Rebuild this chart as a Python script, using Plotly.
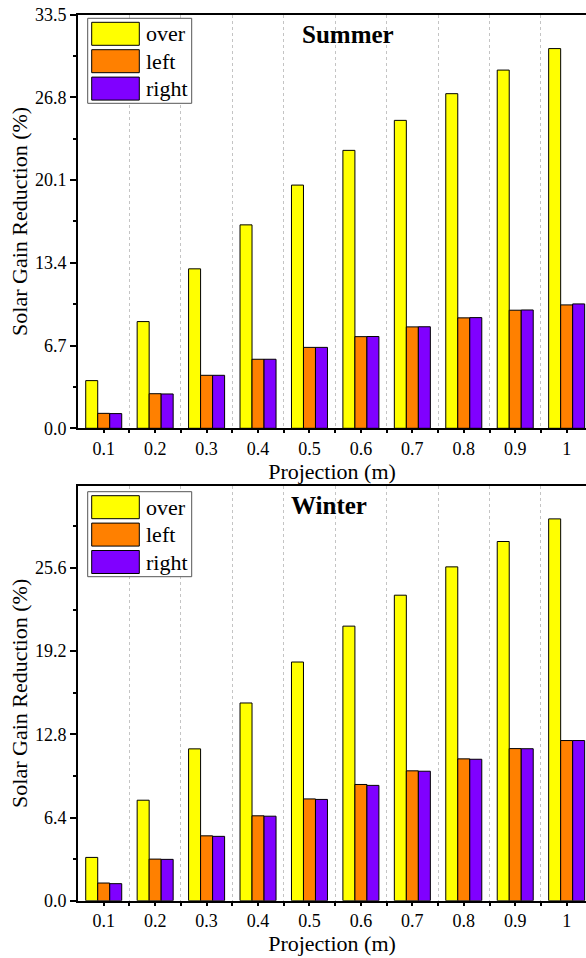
import plotly.graph_objects as go

# ---- data -------------------------------------------------------------
projection = [0.1, 0.2, 0.3, 0.4, 0.5, 0.6, 0.7, 0.8, 0.9, 1.0]
projection_labels = ["0.1", "0.2", "0.3", "0.4", "0.5", "0.6", "0.7", "0.8", "0.9", "1"]

series_names = ["over", "left", "right"]
series_colors = ["#FFFF00", "#FF8000", "#8000FF"]

summer_over = [3.86, 8.64, 12.91, 16.47, 19.69, 22.50, 24.93, 27.09, 29.00, 30.74]
summer_left = [1.21, 2.80, 4.29, 5.59, 6.55, 7.42, 8.21, 8.94, 9.56, 9.99]
summer_right = [1.19, 2.78, 4.29, 5.59, 6.55, 7.43, 8.22, 8.96, 9.58, 10.07]

winter_over = [3.33, 7.73, 11.68, 15.21, 18.36, 21.12, 23.50, 25.68, 27.63, 29.37]
winter_left = [1.36, 3.20, 4.99, 6.53, 7.83, 8.94, 9.99, 10.91, 11.70, 12.32]
winter_right = [1.31, 3.18, 4.95, 6.50, 7.79, 8.87, 9.96, 10.88, 11.69, 12.32]

summer_yticks = [0.0, 6.7, 13.4, 20.1, 26.8, 33.5]
winter_yticks = [0.0, 6.4, 12.8, 19.2, 25.6]
summer_ymax = 33.5
winter_ymax = 31.9

# ---- page geometry (pixels) -------------------------------------------
W, H = 586, 958
ML = 78
FONT = "Liberation Serif"


def px_x(px):
    return (px - ML) / (W - ML)


def px_y(py):
    return 1 - py / H


fig = go.Figure()

panels = [
    ("x", "y", [summer_over, summer_left, summer_right]),
    ("x2", "y2", [winter_over, winter_left, winter_right]),
]
for xa, ya, values in panels:
    for name, color, vals in zip(series_names, series_colors, values):
        fig.add_trace(go.Bar(
            x=projection, y=vals, name=name, xaxis=xa, yaxis=ya,
            marker=dict(color=color, line=dict(color="black", width=1)),
            showlegend=False,
        ))

midpoints = [round(p + 0.05, 3) for p in projection]


def half_steps(ticks, top):
    step = ticks[1] - ticks[0]
    out = [round(t + step / 2, 3) for t in ticks]
    return [v for v in out if v < top]


def xaxis_cfg(anchor):
    return dict(
        anchor=anchor, domain=[0, 1], range=[0.05, 1.0376], automargin=False,
        tickvals=projection, ticktext=projection_labels,
        ticks="outside", ticklen=3, tickwidth=2, tickcolor="black",
        showline=True, linewidth=2, linecolor="black", mirror=True,
        showgrid=False, zeroline=False,
        tickfont=dict(family=FONT, size=18, color="black"),
        title=dict(text="Projection (m)", font=dict(family=FONT, size=22, color="black"), standoff=2),
        minor=dict(tickvals=midpoints, ticks="outside", ticklen=3, tickwidth=2, tickcolor="black",
                   showgrid=True, gridcolor="#c4c4c4", griddash="dot", gridwidth=1),
    )


def yaxis_cfg(anchor, domain, ticks, top):
    return dict(
        anchor=anchor, domain=domain, range=[0, top], automargin=False,
        tickvals=ticks, ticktext=[f"{t:.1f}" for t in ticks],
        ticks="outside", ticklen=6, tickwidth=2, tickcolor="black",
        showline=True, linewidth=2, linecolor="black", mirror=False,
        showgrid=False, zeroline=False,
        tickfont=dict(family=FONT, size=18, color="black"),
        title=dict(text="Solar Gain Reduction (%)", font=dict(family=FONT, size=22, color="black"), standoff=1),
        minor=dict(tickvals=half_steps(ticks, top), ticks="outside", ticklen=3, tickwidth=2,
                   tickcolor="black", showgrid=False),
    )


top_dom = [px_y(428.3), px_y(14.5)]
bot_dom = [px_y(900.7), px_y(486)]

fig.update_layout(
    width=W, height=H,
    margin=dict(l=ML, r=0, t=0, b=0, autoexpand=False),
    paper_bgcolor="white", plot_bgcolor="white",
    barmode="group", bargap=0.3, bargroupgap=0,
    xaxis=xaxis_cfg("y"),
    yaxis=yaxis_cfg("x", top_dom, summer_yticks, summer_ymax),
    xaxis2=xaxis_cfg("y2"),
    yaxis2=yaxis_cfg("x2", bot_dom, winter_yticks, winter_ymax),
    font=dict(family=FONT, color="black"),
)

# ---- per-panel legend boxes and season titles ---------------------------
shapes = []
annotations = []
for (season, title_x, title_y, box_top) in [
    ("Summer", 347.5, 34.0, 18.3),
    ("Winter", 328.5, 505.5, 491.7),
]:
    annotations.append(dict(
        text=f"<b>{season}</b>", xref="paper", yref="paper",
        x=px_x(title_x), y=px_y(title_y), xanchor="center", yanchor="middle",
        showarrow=False, font=dict(family=FONT, size=25, color="black"),
    ))
    shapes.append(dict(
        type="rect", xref="paper", yref="paper",
        x0=px_x(87.7), x1=px_x(191.7), y0=px_y(box_top), y1=px_y(box_top + 85),
        line=dict(color="#555555", width=1), fillcolor="white", layer="above",
    ))
    for i, (name, color) in enumerate(zip(series_names, series_colors)):
        r_top = box_top + 4 + i * 27.4
        shapes.append(dict(
            type="rect", xref="paper", yref="paper",
            x0=px_x(91.7), x1=px_x(139.3), y0=px_y(r_top), y1=px_y(r_top + 23),
            line=dict(color="black", width=1), fillcolor=color, layer="above",
        ))
        annotations.append(dict(
            text=name, xref="paper", yref="paper",
            x=px_x(144), y=px_y(r_top + 11.5), xanchor="left", yanchor="middle",
            showarrow=False, font=dict(family=FONT, size=22, color="black"),
        ))

fig.update_layout(shapes=shapes, annotations=annotations)

fig.write_html("out.html")
